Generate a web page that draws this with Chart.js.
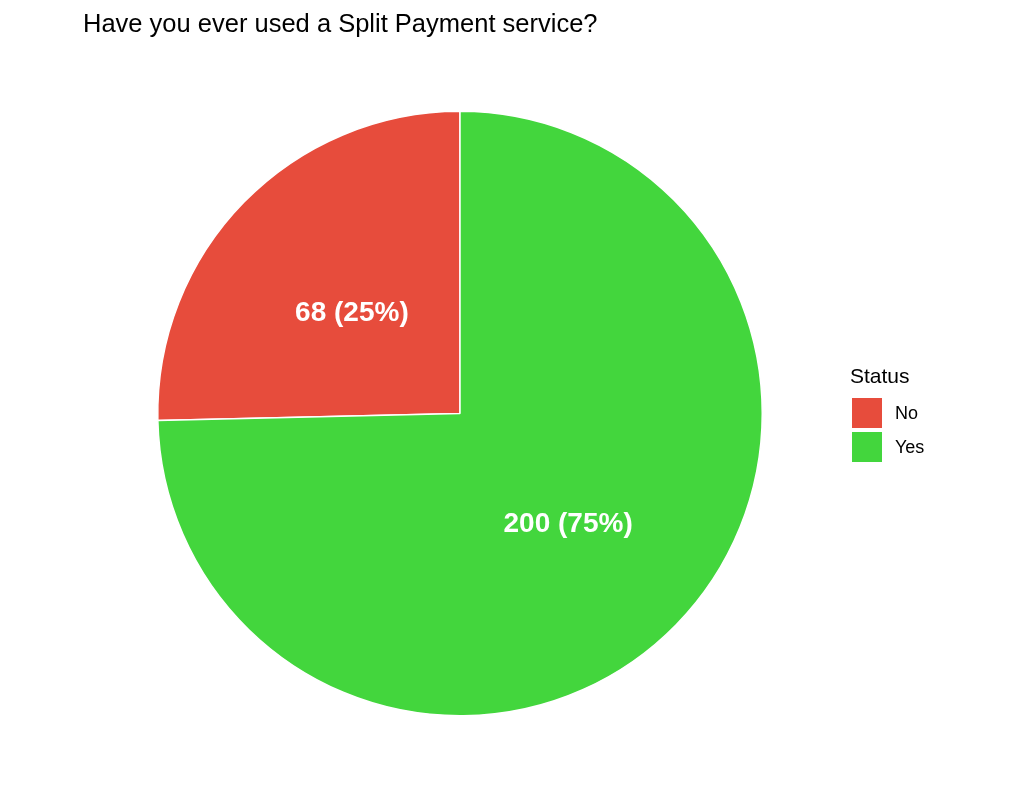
<!DOCTYPE html>
<html>
<head>
<meta charset="utf-8">
<script src="https://cdn.jsdelivr.net/npm/chart.js@4"></script>
<style>
  html, body { margin: 0; padding: 0; background: #fff; }
  #wrap { width: 1009px; height: 793px; position: relative; }
</style>
</head>
<body>
<div id="wrap"><canvas id="pie"></canvas></div>
<script>
const titleText = 'Have you ever used a Split Payment service?';
const legendTitle = 'Status';
const categories = ['No', 'Yes'];
const counts = [68, 200];
const colors = ['#E74C3C', '#43D63D'];

const total = counts.reduce((a, b) => a + b, 0);
const pct = counts.map(v => Math.round(v / total * 100));

// slice labels, title and legend drawn by hand to sit like the ggplot version
const decor = {
  id: 'decor',
  afterDatasetsDraw(chart) {
    const ctx = chart.ctx;
    const arcs = chart.getDatasetMeta(0).data;
    ctx.save();
    ctx.fillStyle = '#fff';
    ctx.font = 'bold 28px "Liberation Sans", Arial, sans-serif';
    ctx.textAlign = 'center';
    ctx.textBaseline = 'middle';
    arcs.forEach((arc, i) => {
      const p = arc.tooltipPosition();
      ctx.fillText(counts[i] + ' (' + pct[i] + '%)', p.x, p.y + 5);
    });

    ctx.fillStyle = '#000';
    ctx.textAlign = 'left';
    ctx.textBaseline = 'alphabetic';
    ctx.font = '25.5px "Liberation Sans", Arial, sans-serif';
    ctx.fillText(titleText, 83, 32);

    ctx.font = '21px "Liberation Sans", Arial, sans-serif';
    ctx.fillText(legendTitle, 850, 383);
    ctx.font = '18px "Liberation Sans", Arial, sans-serif';
    ctx.textBaseline = 'middle';
    categories.forEach((c, i) => {
      const y = 398 + i * 34;
      ctx.fillStyle = colors[i];
      ctx.fillRect(852, y, 30, 30);
      ctx.fillStyle = '#000';
      ctx.fillText(c, 895, y + 16);
    });
    ctx.restore();
  }
};

new Chart(document.getElementById('pie'), {
  type: 'pie',
  data: {
    labels: categories,
    datasets: [{
      data: counts,
      backgroundColor: colors,
      borderColor: '#fff',
      borderWidth: 1.5
    }]
  },
  options: {
    responsive: true,
    maintainAspectRatio: false,
    animation: false,
    rotation: -360 * counts[0] / total,
    layout: { padding: { top: 110, bottom: 76, left: 157, right: 246 } },
    plugins: {
      legend: { display: false },
      title: { display: false },
      tooltip: { enabled: false }
    }
  },
  plugins: [decor]
});
</script>
</body>
</html>
